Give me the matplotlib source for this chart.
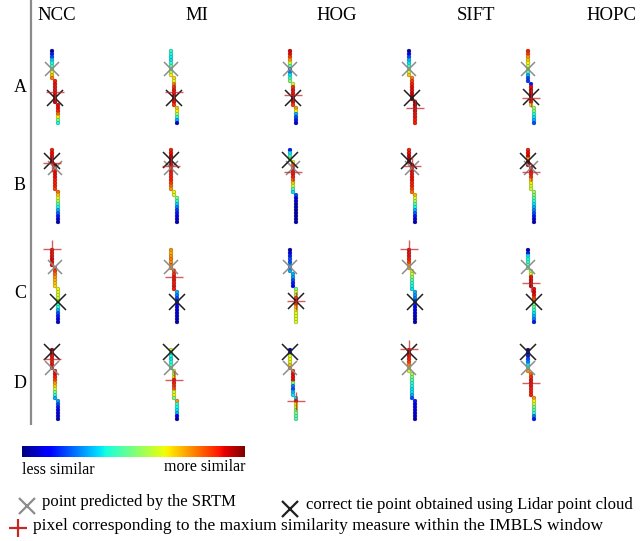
import numpy as np
import matplotlib
matplotlib.use("Agg")
import matplotlib.pyplot as plt

# ---- labels -------------------------------------------------------------
methods = ["NCC", "MI", "HOG", "SIFT", "HOPC"]
row_names = ["A", "B", "C", "D"]

# ---- similarity along each search path (top -> bottom), 0 = less, 1 = more
ncc_a = [0.05, 0.15, 0.2, 0.32, 0.38, 0.42, 0.5, 0.6, 0.7, 0.78, 0.88, 0.9, 0.9,
         0.9, 0.92, 0.95, 0.97, 0.93, 0.9, 0.9, 0.88, 0.8, 0.65, 0.5, 0.38]
mi_a = [0.4, 0.38, 0.36, 0.35, 0.4, 0.45, 0.5, 0.55, 0.65, 0.68, 0.62, 0.75, 0.85,
        0.9, 0.9, 0.95, 0.92, 0.9, 0.85, 0.7, 0.65, 0.55, 0.4, 0.3, 0.08]
hog_a = [0.92, 0.9, 0.85, 0.75, 0.6, 0.45, 0.2, 0.25, 0.35, 0.4, 0.5, 0.6, 0.85,
         0.9, 0.9, 0.95, 0.97, 0.92, 0.85, 0.75, 0.65, 0.3, 0.2, 0.15, 0.08]
sift_a = [0.05, 0.12, 0.2, 0.3, 0.35, 0.4, 0.5, 0.6, 0.7, 0.78, 0.85, 0.88, 0.9,
          0.9, 0.92, 0.95, 0.97, 0.98, 0.97, 0.95, 0.93, 0.9, 0.9, 0.88, 0.88]
hopc_a = [0.88, 0.85, 0.75, 0.7, 0.65, 0.6, 0.5, 0.45, 0.3, 0.2, 0.18, 0.15, 0.9,
          0.93, 0.95, 0.97, 0.95, 0.9, 0.6, 0.55, 0.5, 0.4, 0.35, 0.3, 0.2]

ncc_b = [0.88, 0.9, 0.92, 0.95, 0.97, 0.95, 0.92, 0.9, 0.9, 0.9, 0.88, 0.88, 0.88,
         0.85, 0.8, 0.7, 0.62, 0.55, 0.45, 0.38, 0.3, 0.22, 0.15, 0.1, 0.05]
mi_b = [0.88, 0.9, 0.93, 0.95, 0.97, 0.95, 0.9, 0.9, 0.88, 0.88, 0.88, 0.85, 0.8,
        0.75, 0.65, 0.6, 0.5, 0.4, 0.33, 0.25, 0.18, 0.15, 0.12, 0.08, 0.05]
hog_b = [0.15, 0.35, 0.4, 0.55, 0.62, 0.8, 0.85, 0.9, 0.9, 0.88, 0.8, 0.7, 0.6,
         0.45, 0.35, 0.2, 0.1, 0.08, 0.06, 0.05, 0.05, 0.05, 0.05, 0.05, 0.05]
sift_b = [0.88, 0.9, 0.93, 0.95, 0.97, 0.97, 0.95, 0.92, 0.9, 0.9, 0.9, 0.88, 0.88,
          0.85, 0.8, 0.72, 0.62, 0.55, 0.45, 0.38, 0.3, 0.22, 0.15, 0.1, 0.05]
hopc_b = [0.88, 0.9, 0.92, 0.75, 0.95, 0.93, 0.9, 0.9, 0.88, 0.85, 0.7, 0.65, 0.6,
          0.6, 0.55, 0.5, 0.45, 0.4, 0.35, 0.3, 0.25, 0.2, 0.15, 0.1, 0.05]

ncc_c = [0.9, 0.9, 0.9, 0.92, 0.9, 0.9, 0.88, 0.85, 0.8, 0.75, 0.72, 0.7, 0.68,
         0.65, 0.62, 0.6, 0.6, 0.55, 0.45, 0.38, 0.3, 0.2, 0.15, 0.1, 0.08]
mi_c = [0.75, 0.72, 0.75, 0.78, 0.75, 0.8, 0.78, 0.82, 0.85, 0.9, 0.9, 0.88, 0.9,
        0.88, 0.3, 0.25, 0.2, 0.15, 0.12, 0.1, 0.1, 0.08, 0.07, 0.06, 0.05]
hog_c = [0.05, 0.1, 0.15, 0.2, 0.2, 0.25, 0.2, 0.3, 0.3, 0.28, 0.2, 0.15, 0.12,
         0.5, 0.6, 0.55, 0.85, 0.95, 0.85, 0.7, 0.65, 0.62, 0.62, 0.62, 0.62]
sift_c = [0.92, 0.9, 0.9, 0.88, 0.85, 0.78, 0.72, 0.65, 0.6, 0.52, 0.45, 0.4, 0.38,
          0.35, 0.3, 0.28, 0.25, 0.2, 0.15, 0.12, 0.1, 0.08, 0.06, 0.05, 0.05]
hopc_c = [0.05, 0.15, 0.35, 0.38, 0.4, 0.45, 0.5, 0.55, 0.6, 0.9, 0.92, 0.95, 0.95,
          0.9, 0.92, 0.9, 0.85, 0.75, 0.55, 0.45, 0.4, 0.35, 0.3, 0.25, 0.15]

ncc_d = [0.97, 0.95, 0.9, 0.9, 0.88, 0.9, 0.9, 0.88, 0.9, 0.88, 0.85, 0.75, 0.7,
         0.6, 0.5, 0.4, 0.3, 0.28, 0.2, 0.15, 0.12, 0.1, 0.08, 0.06]
mi_d = [0.6, 0.4, 0.38, 0.35, 0.4, 0.42, 0.45, 0.6, 0.55, 0.65, 0.9, 0.88, 0.85,
        0.8, 0.6, 0.65, 0.5, 0.75, 0.4, 0.38, 0.35, 0.3, 0.1, 0.05]
hog_d = [0.05, 0.15, 0.62, 0.65, 0.6, 0.7, 0.75, 0.85, 0.9, 0.9, 0.9, 0.5, 0.25,
         0.2, 0.3, 0.35, 0.35, 0.9, 0.62, 0.62, 0.5, 0.5, 0.45, 0.45]
sift_d = [0.95, 0.93, 0.9, 0.88, 0.85, 0.78, 0.7, 0.6, 0.55, 0.5, 0.45, 0.4, 0.38,
          0.35, 0.35, 0.3, 0.2, 0.15, 0.12, 0.1, 0.1, 0.08, 0.06, 0.05]
hopc_d = [0.05, 0.08, 0.15, 0.2, 0.25, 0.35, 0.4, 0.75, 0.8, 0.85, 0.9, 0.92, 0.9,
          0.88, 0.88, 0.88, 0.75, 0.65, 0.6, 0.5, 0.45, 0.4, 0.25, 0.15]

# path index at which each search path steps one pixel to the right
shift_a = [[10, 18], [9, 19], [11, 19], [9, 17], [11, 19]]
shift_b = [[5, 14], [14, 16], [4, 15], [5, 15], [6, 14]]
shift_c = [[6, 13], [7, 14], [8, 13], [7, 14], [7, 13]]
shift_d = [[7, 17], [7, 17], [7, 16], [8, 17], [8, 16]]

# position (path index) of the three reference points in each cell
srtm_rows = [[6.1, 6.1, 6.1, 6.1, 6.1],
             [6.1, 6.1, 6.1, 6.1, 6.1],
             [5.8, 5.8, 5.8, 5.8, 5.8],
             [6.1, 6.1, 6.1, 6.1, 6.1]]
lidar_rows = [[15.5, 15.5, 15.5, 15.5, 15.3],
              [3.5, 3.4, 3.4, 3.8, 3.8],
              [17.2, 17.2, 17.0, 17.2, 17.2],
              [0.6, 0.6, 0.6, 0.6, 0.6]]
maxsim_rows = [[13.8, 13.8, 14.7, 18.9, 15.7],
               [4.4, 5.2, 7.4, 5.2, 7.4],
               [-0.2, 9.0, 16.9, -0.2, 11.1],
               [3.1, 10.1, 16.9, -0.3, 11.1]]

sims = [[ncc_a, mi_a, hog_a, sift_a, hopc_a],
        [ncc_b, mi_b, hog_b, sift_b, hopc_b],
        [ncc_c, mi_c, hog_c, sift_c, hopc_c],
        [ncc_d, mi_d, hog_d, sift_d, hopc_d]]
shifts = [shift_a, shift_b, shift_c, shift_d]

# ---- layout (pixel units of the canvas) ---------------------------------
W, H = 643, 541
col_x = [52, 171, 290, 409, 528]
row_y = [51, 150, 250, 350]
header_x = [57, 197, 337, 476, 611]
label_y = [88, 185, 293, 383]
pitch = 3.0

SERIF = ["Liberation Serif", "DejaVu Serif"]
GRAY = "#8c8c8c"
BLACK = "#1e1e1e"
RED = "#c62828"
jet = plt.get_cmap("jet")

fig = plt.figure(figsize=(W / 100, H / 100), dpi=100)
ax = fig.add_axes([0, 0, 1, 1])
ax.set_xlim(0, W)
ax.set_ylim(H, 0)
ax.axis("off")

# header and row labels
for name, hx in zip(methods, header_x):
    ax.text(hx, 15, name, ha="center", va="center", fontsize=13.5, family=SERIF)
for name, ly in zip(row_names, label_y):
    ax.text(20, ly, name, ha="center", va="center", fontsize=13, family=SERIF)
ax.plot([31, 31], [0, 425], color="#8a8a8a", lw=1.6, solid_capstyle="butt")


def offsets(n, steps):
    dx = np.zeros(n)
    for s in steps:
        dx[s:] += 1
    return dx


for r in range(4):
    for c in range(5):
        vals = np.asarray(sims[r][c], dtype=float)
        n = len(vals)
        idx = np.arange(n)
        dx = offsets(n, shifts[r][c])
        xs = col_x[c] + dx * pitch
        ys = row_y[r] + idx * pitch
        face = jet(vals)
        edge = face.copy()
        edge[:, :3] *= 0.7
        ax.scatter(xs, ys, c=face, s=6.5, marker="o", linewidths=0.5,
                   edgecolors=edge, zorder=2)

        def mark_xy(row):
            k = int(np.clip(round(row), 0, n - 1))
            return col_x[c] + dx[k] * pitch, row_y[r] + row * pitch

        gx, gy = mark_xy(srtm_rows[r][c])
        ax.plot(gx, gy, marker="x", ms=10.5, mew=1.1, color=GRAY, zorder=3)
        bx, by = mark_xy(lidar_rows[r][c])
        ax.plot(bx, by, marker="x", ms=11, mew=1.1, color=BLACK, zorder=4)
        px, py = mark_xy(maxsim_rows[r][c])
        ax.plot(px, py, marker="+", ms=13, mew=1.0, color=RED, alpha=0.75,
                zorder=5)

# colour scale
grad = np.linspace(0, 1, 256)[None, :]
ax.imshow(grad, cmap="jet", aspect="auto", extent=[22, 245, 457, 446],
          zorder=1)
ax.set_xlim(0, W)
ax.set_ylim(H, 0)
ax.text(22, 470, "less similar", ha="left", va="center", fontsize=11.5,
        family=SERIF)
ax.text(245, 467, "more similar", ha="right", va="center", fontsize=11.5,
        family=SERIF)

# legend
ax.plot(27, 506, marker="x", ms=11, mew=1.6, color=GRAY)
ax.text(42, 502, "point predicted by the SRTM", ha="left", va="center",
        fontsize=12, family=SERIF)
ax.plot(290, 509, marker="x", ms=11, mew=1.6, color=BLACK)
ax.text(306, 505, "correct tie point obtained using Lidar point cloud",
        ha="left", va="center", fontsize=12, family=SERIF)
ax.plot(18, 528, marker="+", ms=13, mew=1.6, color=RED)
ax.text(33, 526, "pixel corresponding to the maxium similarity measure "
        "within the IMBLS window", ha="left", va="center", fontsize=12.5,
        family=SERIF)

fig.savefig("out.png", dpi=100)
